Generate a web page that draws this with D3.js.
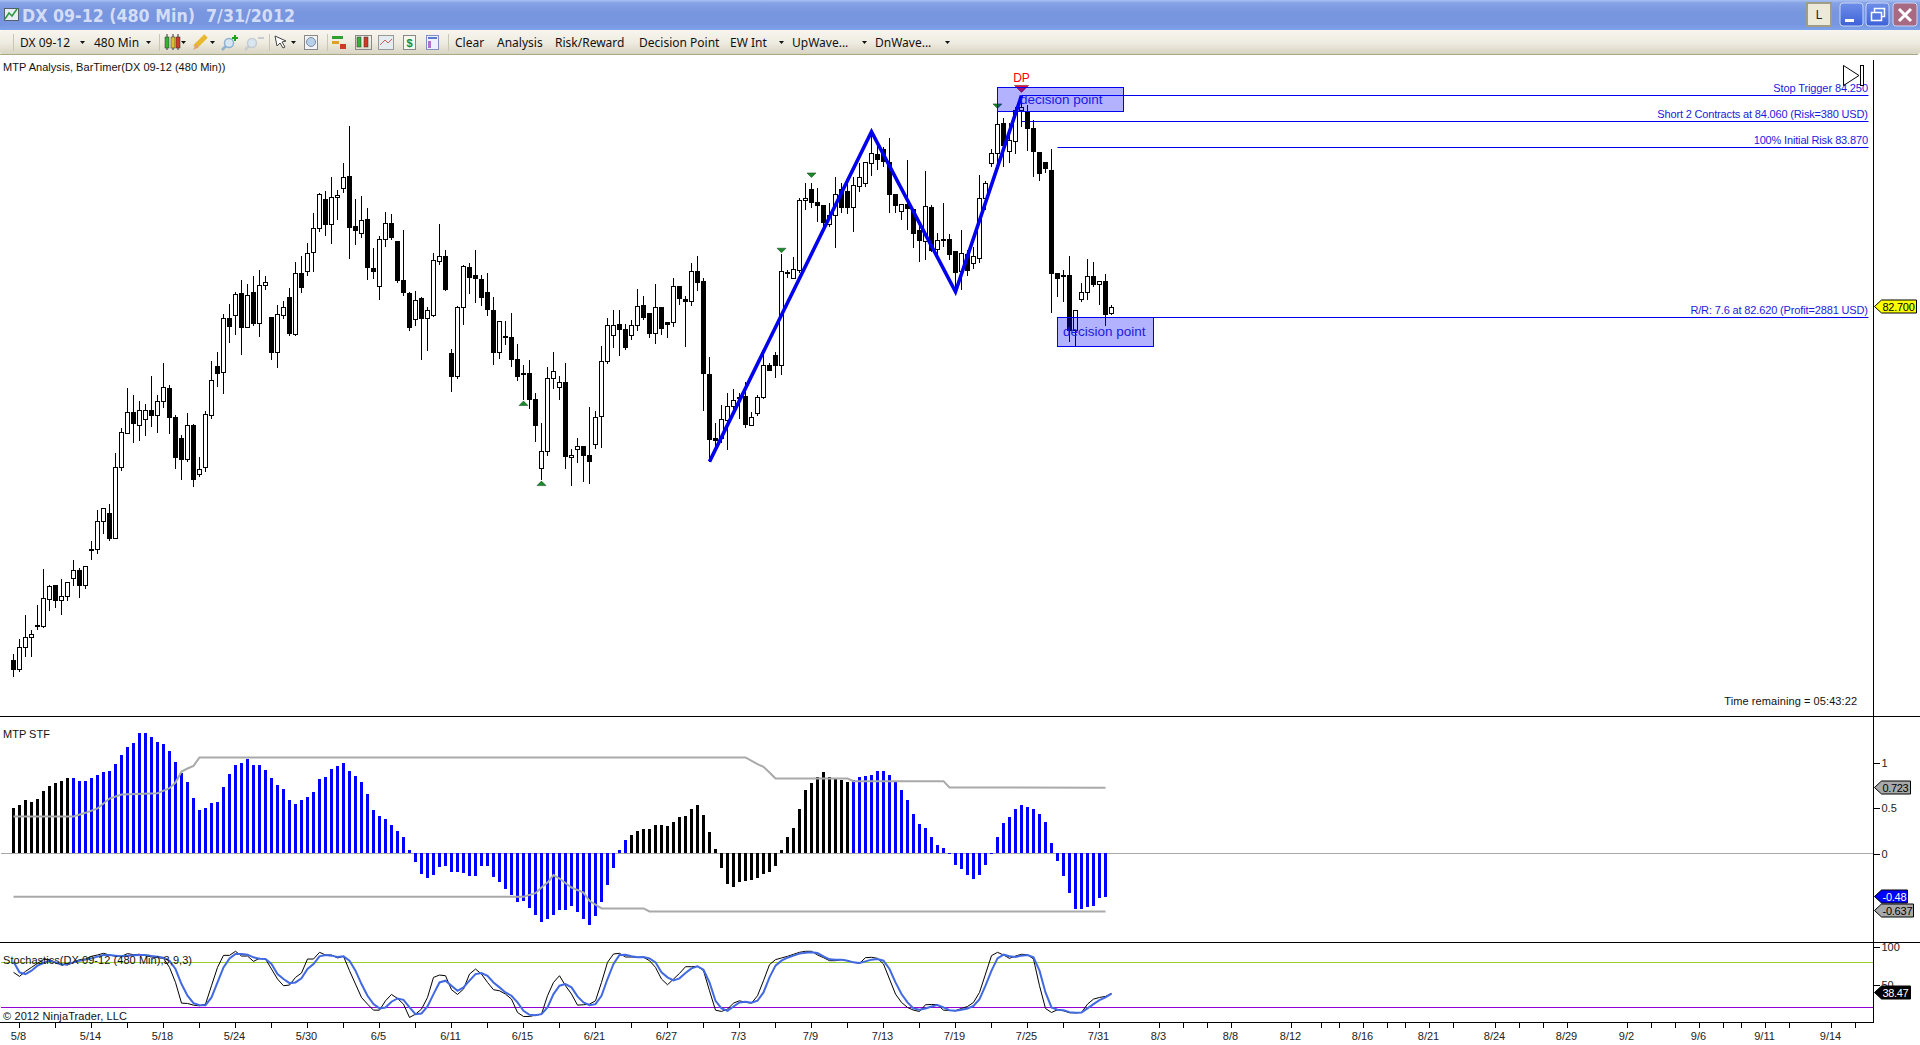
<!DOCTYPE html>
<html>
<head>
<meta charset="utf-8">
<title>DX 09-12 (480 Min)</title>
<script src="https://cdn.jsdelivr.net/npm/d3@7"></script>
<style>
html, body { margin: 0; padding: 0; background: #fff; overflow: hidden; }
text { font-family: "Liberation Sans", Arial, sans-serif; font-size: 11px; }
</style>
</head>
<body>
<svg id="chart" width="1920" height="1045"></svg>
<script>
// ---- data ----
var opens = [
80.118,80.050,80.213,80.286,80.372,80.364,80.564,80.666,80.557,80.586,
80.715,80.776,80.666,80.930,80.930,81.134,81.193,81.010,81.529,81.777,
81.931,81.836,81.880,81.945,81.909,82.011,82.106,81.894,81.741,81.585,
81.836,81.475,81.526,81.909,82.267,82.220,82.617,82.639,82.800,82.549,
82.807,82.578,82.859,82.625,82.367,82.639,82.771,82.498,82.946,82.958,
83.097,83.275,83.487,83.302,83.502,83.567,83.655,83.290,83.239,83.341,
82.983,82.849,83.195,83.312,83.180,82.896,82.801,82.611,82.764,82.618,
82.640,83.035,83.071,82.362,82.192,82.698,82.991,82.932,82.903,82.808,
82.677,82.367,82.487,82.479,82.318,82.216,82.216,82.026,81.522,81.644,
82.180,82.114,82.150,81.600,81.661,81.683,81.617,81.697,81.902,82.304,
82.494,82.574,82.538,82.494,82.567,82.713,82.655,82.508,82.698,82.589,
82.589,82.852,82.757,82.742,82.962,82.888,82.209,81.741,81.741,81.870,
81.973,82.041,82.048,81.834,81.924,82.041,82.275,82.348,82.274,82.956,
82.909,82.968,83.480,83.560,83.465,83.443,83.304,83.370,83.560,83.543,
83.428,83.582,83.604,83.750,83.818,83.852,83.757,83.523,83.399,83.450,
83.414,83.260,83.180,83.428,83.121,83.195,83.195,83.107,82.961,83.085,
83.019,83.056,83.492,83.750,83.823,84.042,83.838,83.911,84.137,84.123,
84.006,83.830,83.757,83.699,82.946,82.929,82.931,82.532,82.756,82.807,
82.924,82.866,82.888,82.654];
var highs = [
80.162,80.272,80.447,80.340,80.523,80.783,80.669,80.669,80.710,80.688,
80.849,80.791,80.805,80.988,81.215,81.229,81.258,81.631,81.814,82.106,
82.057,82.011,81.992,82.196,82.057,82.289,82.130,81.911,81.765,81.926,
81.845,81.602,81.938,82.306,82.371,82.647,82.720,82.807,82.895,82.866,
82.924,82.968,82.924,82.625,82.712,82.742,82.837,83.027,83.071,83.166,
83.385,83.531,83.546,83.648,83.553,83.750,84.021,83.487,83.509,83.421,
83.129,83.217,83.392,83.377,83.180,83.261,82.808,82.815,82.772,82.698,
83.093,83.305,83.115,82.392,82.706,83.005,83.020,83.115,82.932,82.947,
82.772,82.596,82.596,82.655,82.428,82.275,82.311,82.070,81.851,82.260,
82.370,82.194,82.289,81.661,81.741,81.683,81.968,81.938,82.413,82.618,
82.677,82.677,82.574,82.603,82.830,82.779,82.655,82.867,82.698,82.589,
82.910,82.852,82.779,83.020,83.071,82.910,82.333,81.851,81.982,82.070,
82.099,82.070,82.150,81.931,82.055,82.362,82.292,82.370,83.085,82.970,
83.063,83.494,83.604,83.604,83.567,83.443,83.458,83.648,83.604,83.604,
83.648,83.750,83.757,83.981,83.896,83.867,83.933,83.523,83.450,83.774,
83.414,83.311,83.691,83.445,83.238,83.458,83.233,83.107,83.263,83.117,
83.141,83.662,83.618,83.852,84.188,84.079,84.042,84.164,84.225,84.176,
84.067,83.830,83.757,83.852,82.946,82.970,83.073,82.676,82.873,83.051,
83.029,82.888,82.941,82.712];
var lows = [
79.999,80.035,80.145,80.145,80.340,80.355,80.481,80.501,80.450,80.554,
80.664,80.574,80.640,80.852,80.895,81.042,80.990,81.010,81.504,81.777,
81.709,81.724,81.760,81.826,81.782,81.962,81.775,81.519,81.439,81.570,
81.387,81.461,81.497,81.882,82.118,82.067,82.440,82.498,82.352,82.549,
82.564,82.483,82.827,82.315,82.257,82.615,82.491,82.491,82.805,82.929,
82.958,83.251,83.222,83.163,83.338,83.536,83.053,83.156,83.207,82.900,
82.907,82.754,83.141,83.192,82.878,82.784,82.528,82.564,82.316,82.382,
82.630,83.010,82.820,82.082,82.177,82.572,82.798,82.733,82.711,82.638,
82.279,82.323,82.426,82.265,82.163,82.021,81.958,81.717,81.437,81.614,
82.099,82.024,81.519,81.395,81.563,81.424,81.410,81.666,81.673,82.287,
82.404,82.345,82.389,82.462,82.528,82.606,82.477,82.433,82.496,82.477,
82.552,82.718,82.411,82.711,82.820,81.943,81.571,81.680,81.705,81.658,
81.924,81.880,81.819,81.834,81.902,82.031,82.236,82.184,82.203,82.909,
82.909,82.946,83.409,83.421,83.319,83.282,83.287,83.134,83.385,83.380,
83.251,83.543,83.579,83.657,83.701,83.726,83.385,83.385,83.336,83.263,
83.129,83.031,83.043,83.104,83.073,83.136,83.043,82.824,82.824,82.929,
82.975,83.019,83.409,83.721,83.750,83.721,83.755,83.816,84.018,83.842,
83.648,83.623,83.677,82.659,82.776,82.739,82.447,82.405,82.734,82.751,
82.849,82.715,82.564,82.642];
var closes = [
80.050,80.213,80.286,80.308,80.374,80.571,80.659,80.554,80.584,80.688,
80.776,80.664,80.805,80.920,81.134,81.229,81.010,81.529,81.785,81.931,
81.848,81.945,81.945,81.906,82.011,82.113,81.892,81.599,81.585,81.836,
81.439,81.514,81.916,82.165,82.213,82.617,82.557,82.793,82.549,82.785,
82.578,82.859,82.881,82.367,82.647,82.698,82.505,82.946,82.842,83.092,
83.275,83.524,83.302,83.502,83.516,83.648,83.280,83.258,83.334,82.988,
82.958,83.195,83.312,83.207,82.893,82.806,82.552,82.750,82.618,82.677,
83.042,83.071,82.828,82.192,82.698,82.998,82.915,82.908,82.769,82.681,
82.367,82.596,82.477,82.316,82.192,82.206,82.024,81.834,81.646,82.180,
82.231,82.150,81.607,81.617,81.683,81.617,81.571,81.895,82.304,82.567,
82.567,82.535,82.404,82.567,82.706,82.625,82.506,82.698,82.543,82.572,
82.852,82.764,82.740,82.962,82.879,82.216,81.731,81.724,81.880,81.973,
82.016,82.031,81.841,81.895,82.041,82.275,82.236,82.275,82.961,82.951,
82.975,83.480,83.494,83.462,83.441,83.319,83.370,83.523,83.426,83.426,
83.589,83.648,83.757,83.823,83.779,83.762,83.523,83.443,83.450,83.421,
83.238,83.185,83.436,83.117,83.187,83.187,83.085,82.953,83.092,82.968,
83.070,83.494,83.604,83.823,84.035,83.881,83.918,84.140,84.159,84.006,
83.838,83.677,83.713,82.946,82.909,82.927,82.532,82.676,82.807,82.924,
82.863,82.888,82.644,82.700];

var stfValues = [
.498,.531,.586,.564,.597,.685,.740,.773,.795,.828,
.828,.795,.795,.828,.861,.894,.905,.982,1.081,1.168,
1.212,1.322,1.322,1.278,1.223,1.201,1.125,1.004,.883,.784,
.608,.476,.498,.553,.564,.729,.872,.971,.993,1.037,
.971,.971,.916,.828,.751,.707,.586,.542,.586,.619,
.674,.817,.839,.927,.960,.993,.905,.850,.784,.652,
.476,.410,.377,.311,.245,.179,.037,-.095,-.227,-.271,
-.238,-.150,-.139,-.205,-.205,-.216,-.249,-.249,-.139,-.139,
-.260,-.315,-.392,-.458,-.535,-.524,-.601,-.678,-.755,-.722,
-.678,-.623,-.623,-.579,-.645,-.722,-.788,-.689,-.535,-.348,
-.161,.037,.147,.201,.245,.267,.267,.311,.311,.300,
.344,.399,.410,.487,.531,.421,.234,.048,-.161,-.337,
-.370,-.315,-.304,-.293,-.271,-.227,-.205,-.139,.037,.179,
.278,.487,.696,.773,.839,.894,.839,.817,.806,.784,
.806,.839,.850,.861,.905,.905,.861,.784,.696,.586,
.432,.322,.278,.179,.092,.059,-.004,-.128,-.172,-.238,
-.282,-.238,-.128,-.004,.179,.333,.399,.487,.531,.509,
.487,.432,.344,.114,-.084,-.249,-.436,-.612,-.612,-.590,
-.579,-.491,-.48];
// bar index ranges that are painted black instead of blue
var stfBlackRanges = [[0, 9], [103, 139]];

var upperIdx = [0,10,12,14,16,18,24,26,27,28,29,30,31,122,124,125,126,127,139,140,155,156,182];
var upperVal = [.407,.407,.447,.495,.604,.648,.663,.718,.780,.901,.934,.963,1.055,1.055,.982,.952,.890,.824,.824,.795,.795,.725,.723];
var lowerIdx = [0,85,87,88,89,90,91,93,95,96,98,105,106,182];
var lowerVal = [-.476,-.476,-.436,-.374,-.319,-.238,-.275,-.374,-.429,-.520,-.604,-.604,-.637,-.637];

var stochK = [
66.7,61.3,68,73.3,78.7,83.6,83.6,80,77.8,76.4,
80,83.6,84.4,88,89.8,92,89.8,88,88,91.6,
90.2,90.7,88.9,87.1,86.2,85.3,73.3,53.3,25.8,25.3,
23.1,22.2,24.4,48.9,73.3,89.3,89.3,94.7,88.4,88.4,
81.3,85.3,84.4,71.1,57.8,48.9,49.8,60,65.8,84.4,
84.4,93.3,89.8,89.8,85.8,88,68.9,51.1,33.3,24.4,
16.4,16.4,28.9,37.3,32,24.4,6.7,11.1,17.8,33.3,
60,63.1,62.2,43.6,37.3,44.4,64.4,71.1,64.4,53.3,
43.6,42.2,37.8,31.1,13.3,8,8,9.8,11.1,35.6,
53.3,62.2,48.9,37.8,23.1,23.6,24.4,28.9,53.3,80,
91.1,92,87.1,87.1,86.7,86.7,82.2,73.3,57.8,50.2,
57.8,65.3,74.2,74.2,74.7,68.9,42.2,16.4,14.7,17.8,
25.8,28.9,26.7,25.8,35.6,55.6,76.9,83.6,85.8,88,
90.7,93.3,94.7,94.7,89.8,86.2,82.2,82.2,83.6,82.2,
80,78.7,86.2,86.7,85.3,77.8,57.8,37.8,26.7,20,
16.4,14.7,23.6,24,23.6,16.4,16,15.6,18.7,21.3,
26.7,40,64.4,88.9,93.3,89.8,85.3,88.4,90.7,90.2,
84.4,48.9,18.7,13.3,16.9,15.6,12.9,12.9,13.3,24.4,
31.1,33.3,34.7,38.7];
var stochD = [
80.9,66.7,64.4,68.9,75.6,79.1,82.2,80,76.9,77.8,
80,82.2,83.6,85.3,87.6,89.8,89.8,88.9,88,88.9,
89.3,89.8,89.8,88.4,87.6,86.2,82.2,71.1,51.1,35.6,
25.8,23.1,23.1,33.3,53.3,73.3,85.3,91.1,91.1,90.2,
86.7,84.9,84.4,77.8,64.4,57.8,52.4,53.3,58.7,71.1,
77.8,88,89.8,88.9,87.1,88,82.2,68.9,51.1,35.6,
24.4,18.7,20,27.6,32,30.2,20,11.1,12,21.3,
37.8,53.3,55.6,48.9,42.2,46.7,55.6,64.4,65.8,62.2,
53.3,46.7,40,35.6,26.7,15.6,10.2,9.8,11.1,20,
37.8,48.9,51.1,46.7,34.7,26.7,23.1,24.4,35.6,57.8,
77.8,89.8,90.2,88,86.7,87.1,85.3,80,66.7,60,
56,58.7,65.8,72,74.7,70.2,53.3,28.9,18.7,15.6,
21.3,26.7,27.6,26.2,28.9,40,60,75.6,82.2,86.2,
88.9,91.6,92.9,93.3,92.4,88,84,83.6,83.6,82.2,
80,79.1,81.3,83.6,84.4,82.2,71.1,53.3,37.8,26.7,
18.7,16.9,18.7,21.3,23.1,20,16.4,15.6,16.9,18.7,
22.2,31.1,48.9,68.9,85.3,90.2,88,87.1,88.9,89.8,
86.7,68.9,40,20,16.9,16.4,13.8,12.9,13.3,18.7,
24.4,29.8,33.3,38.47];

// x axis: bar index of each tick, and the date text of the labelled ones
var tickIdx = [1,7,13,19,25,31,37,43,49,55,61,67,73,79,85,91,97,103,109,115,121,127,133,139,145,151,157,163,169,175,181,
  191,195,199,203,213,218,221,225,229,232,236,240,247,251,255,259,269,273,277,281,285,288,292,296,303,307];
var labelIdx = [1,13,25,37,49,61,73,85,97,109,121,133,145,157,169,181,191,203,213,225,236,247,259,269,281,292,303];
var labelText = ["5/8","5/14","5/18","5/24","5/30","6/5","6/11","6/15","6/21","6/27","7/3","7/9","7/13","7/19","7/25","7/31",
  "8/3","8/8","8/12","8/16","8/21","8/24","8/29","9/2","9/6","9/11","9/14"];

// zigzag drawing tool
var waveIdx = [116, 143, 157, 168];
var wavePrice = [81.570, 83.982, 82.812, 84.245];

// MTP swing markers
var downMarkIdx = [128, 133, 164];
var downMarkPrice = [83.130, 83.680, 84.185];
var upMarkIdx = [85, 88];
var upMarkPrice = [81.980, 81.395];

// risk/reward lines (line level nudged to land on the same pixel rows as the picture)
var rrIdx = [168, 168, 174, 174];
var rrPrice = [84.250, 84.055, 83.865, 82.625];
var rrText = ["Stop Trigger 84.250", "Short 2 Contracts at 84.060 (Risk=380 USD)", "100% Initial Risk 83.870", "R/R: 7.6 at 82.620 (Profit=2881 USD)"];
var rrTextWidth = [94.7, 210.7, 114.3, 177.6];

// decision point boxes: first bar, last bar, top price, bottom price
var boxFrom = [164, 174];
var boxTo = [185, 190];
var boxTop = [84.306, 82.625];
var boxBottom = [84.131, 82.413];

var toolText = ["DX 09-12", "480 Min", "Clear", "Analysis", "Risk/Reward", "Decision Point", "EW Int", "UpWave...", "DnWave..."];
var toolX = [20, 94, 455, 497, 555, 639, 730, 792, 875];

// ---- scales ----
var x = d3.scaleLinear().domain([0, 183]).range([13.5, 13.5 + 6 * 183]);
var yPrice = d3.scaleLinear().domain([84.25, 82.62]).range([95, 318]);
var ySTF = d3.scaleLinear().domain([0, 1]).range([853.5, 762.5]);
var yStoch = d3.scaleLinear().domain([0, 100]).range([1022.5, 947.3]);
var crisp = function (v) { return Math.floor(v) + 0.5; };

var svg = d3.select("#chart");
var defs = svg.append("defs");

function gradient(id, stops) {
    var g = defs.append("linearGradient").attr("id", id)
        .attr("x1", 0).attr("x2", 0).attr("y1", 0).attr("y2", 1);
    stops.forEach(function (s) {
        g.append("stop").attr("offset", s[0]).attr("stop-color", s[1]);
    });
}
gradient("titleGrad", [[0, "#a9c0f2"], [0.1, "#86a3e6"], [0.4, "#7895df"], [0.8, "#7895df"], [1, "#7da3ea"]]);
gradient("toolGrad", [[0, "#f7f5ee"], [0.5, "#efece2"], [1, "#d9d5c3"]]);
gradient("btnGrad", [[0, "#6f8fe8"], [1, "#3d62d8"]]);

// ---- window frame ----
var frame = svg.append("g").attr("id", "frame");
frame.append("rect").attr("width", 1920).attr("height", 30).attr("fill", "url(#titleGrad)");
frame.append("rect").attr("y", 30).attr("width", 1920).attr("height", 24).attr("rx", 2).attr("fill", "url(#toolGrad)");
frame.append("line").attr("x1", 0).attr("x2", 1918).attr("y1", 54.5).attr("y2", 54.5).attr("stroke", "#a9a885");

// little chart icon in the title bar
frame.append("rect").attr("x", 4.5).attr("y", 8.5).attr("width", 14).attr("height", 12).attr("fill", "#e8ecf4").attr("stroke", "#55606f");
frame.append("path").attr("d", "M5,19 L9,13 L12,16 L17,9").attr("fill", "none").attr("stroke", "#2c9a3c").attr("stroke-width", 1.5);
frame.append("text").attr("x", 22).attr("y", 22)
    .style("font-family", "'DejaVu Sans', sans-serif").style("font-size", "18.5px").style("font-weight", "bold")
    .attr("textLength", 273).attr("lengthAdjust", "spacingAndGlyphs")
    .attr("fill", "#d3ddf6").attr("xml:space", "preserve").text("DX 09-12 (480 Min)  7/31/2012");

// window buttons
frame.append("rect").attr("x", 1807).attr("y", 3).attr("width", 24).attr("height", 23).attr("fill", "#ece9d8").attr("stroke", "#9f9c87").attr("stroke-width", 2);
frame.append("text").attr("x", 1819).attr("y", 19).attr("text-anchor", "middle").style("font-size", "12px").attr("fill", "#222").text("L");
frame.selectAll(".winbtn").data([1840, 1866]).enter().append("rect")
    .attr("class", "winbtn").attr("x", function (d) { return d; }).attr("y", 3)
    .attr("width", 23).attr("height", 23).attr("rx", 3).attr("fill", "url(#btnGrad)").attr("stroke", "#c8d6f6");
frame.append("rect").attr("x", 1893).attr("y", 3).attr("width", 24).attr("height", 23).attr("rx", 3).attr("fill", "#a86a82").attr("stroke", "#c8d6f6");
frame.append("rect").attr("x", 1845).attr("y", 19).attr("width", 9).attr("height", 3).attr("fill", "#fff");
frame.append("rect").attr("x", 1874.5).attr("y", 8.5).attr("width", 10).attr("height", 8).attr("fill", "none").attr("stroke", "#fff").attr("stroke-width", 1.5);
frame.append("rect").attr("x", 1871.5).attr("y", 12.5).attr("width", 10).attr("height", 8).attr("fill", "#5577e0").attr("stroke", "#fff").attr("stroke-width", 1.5);
frame.append("path").attr("d", "M1899,9 L1911,21 M1911,9 L1899,21").attr("stroke", "#fff").attr("stroke-width", 3);

// toolbar texts and the small dropdown arrows
frame.selectAll(".tool").data(toolText).enter().append("text")
    .attr("class", "tool").attr("x", function (d, i) { return toolX[i]; }).attr("y", 47)
    .style("font-family", "'Noto Sans', sans-serif").style("font-size", "12px").attr("fill", "#111").text(function (d) { return d; });
frame.selectAll(".arrow").data([80, 146, 181, 210, 291, 779, 862, 945]).enter().append("path")
    .attr("class", "arrow").attr("d", function (d) { return "M" + d + ",41 h5 l-2.5,3 z"; }).attr("fill", "#111");
frame.selectAll(".sep").data([13, 159, 269, 327, 448]).enter().append("line")
    .attr("class", "sep").attr("x1", function (d) { return d + 0.5; }).attr("x2", function (d) { return d + 0.5; })
    .attr("y1", 34).attr("y2", 51).attr("stroke", "#c9c6b4");
// toolbar icons, kept rough on purpose
var icons = frame.append("g").attr("id", "icons");
[[165, "#35b035"], [171, "#d8c030"], [176, "#d03a2a"]].forEach(function (b) {
    icons.append("line").attr("x1", b[0] + 2).attr("x2", b[0] + 2).attr("y1", 34).attr("y2", 50).attr("stroke", "#333");
    icons.append("rect").attr("x", b[0]).attr("y", 37).attr("width", 4).attr("height", 11).attr("fill", b[1]).attr("stroke", "#333").attr("stroke-width", 0.5);
});
icons.append("path").attr("d", "M195,47 L206,36").attr("stroke", "#e8b830").attr("stroke-width", 5);
icons.append("path").attr("d", "M193,50 L196,44 L199,47 Z").attr("fill", "#e0a070");
[[229, "#8fb2d0"], [252, "#c6ccd2"]].forEach(function (b) {
    icons.append("circle").attr("cx", b[0]).attr("cy", 43).attr("r", 4.5).attr("fill", "#d8e6f2").attr("stroke", b[1]).attr("stroke-width", 1.5);
    icons.append("line").attr("x1", b[0] - 3).attr("y1", 46).attr("x2", b[0] - 7).attr("y2", 50).attr("stroke", b[1]).attr("stroke-width", 2.5);
});
icons.append("path").attr("d", "M232,38 h6 M235,35 v6").attr("stroke", "#20a020").attr("stroke-width", 2);
icons.append("path").attr("d", "M258,38 h6").attr("stroke", "#c6ccd2").attr("stroke-width", 2);
icons.append("path").attr("d", "M275,36 l11,5 -4,1 3,5 -2,1 -3,-5 -3,3 z").attr("fill", "#fff").attr("stroke", "#444");
icons.append("rect").attr("x", 304.5).attr("y", 35.5).attr("width", 13).attr("height", 14).attr("fill", "#f4f4f4").attr("stroke", "#888");
icons.append("circle").attr("cx", 311).attr("cy", 42).attr("r", 4.5).attr("fill", "#b8d0ea").attr("stroke", "#7a8fa6");
icons.append("rect").attr("x", 332).attr("y", 36).attr("width", 11).attr("height", 3).attr("fill", "#2f9f2f");
icons.append("rect").attr("x", 332).attr("y", 41).attr("width", 7).attr("height", 3).attr("fill", "#e0a020");
icons.append("rect").attr("x", 340).attr("y", 44).attr("width", 6).attr("height", 5).attr("fill", "#d03a2a");
[[357, "#35b035"], [364, "#d03a2a"]].forEach(function (b) {
    icons.append("rect").attr("x", b[0]).attr("y", 37).attr("width", 4).attr("height", 10).attr("fill", b[1]).attr("stroke", "#333").attr("stroke-width", 0.5);
});
icons.append("rect").attr("x", 355.5).attr("y", 35.5).attr("width", 16).attr("height", 14).attr("fill", "none").attr("stroke", "#888");
icons.append("rect").attr("x", 378.5).attr("y", 35.5).attr("width", 15).attr("height", 14).attr("fill", "#e4ecf0").attr("stroke", "#999");
icons.append("path").attr("d", "M380,45 L385,40 L388,43 L392,39").attr("fill", "none").attr("stroke", "#d06060");
icons.append("rect").attr("x", 403.5).attr("y", 35.5).attr("width", 12).attr("height", 14).attr("fill", "#f4f8ee").attr("stroke", "#888");
icons.append("text").attr("x", 409.5).attr("y", 47).attr("text-anchor", "middle").style("font-size", "11px").style("font-weight", "bold").attr("fill", "#1a8a3a").text("$");
icons.append("rect").attr("x", 426.5).attr("y", 35.5).attr("width", 12).attr("height", 14).attr("fill", "#eef1fb").attr("stroke", "#7f8fc0");
icons.append("rect").attr("x", 428).attr("y", 37).attr("width", 9).attr("height", 2).attr("fill", "#5a7ad0");
icons.append("rect").attr("x", 428).attr("y", 41).attr("width", 3).attr("height", 7).attr("fill", "#b070d0");

// ---- candles ----
var bars = d3.range(closes.length);
var price = svg.append("g").attr("id", "price");

// drawing objects that sit under the candles
price.selectAll(".rr").data(rrPrice).enter().append("line")
    .attr("class", "rr")
    .attr("x1", function (d, i) { return x(rrIdx[i]); }).attr("x2", 1868.5)
    .attr("y1", function (d) { return crisp(yPrice(d)); }).attr("y2", function (d) { return crisp(yPrice(d)); })
    .attr("stroke", "#0000ee");
price.append("line").attr("x1", x(168)).attr("x2", x(168))
    .attr("y1", crisp(yPrice(rrPrice[0]))).attr("y2", crisp(yPrice(rrPrice[1]))).attr("stroke", "#0000ee");

price.selectAll(".wick").data(bars).enter().append("line")
    .attr("class", "wick").attr("shape-rendering", "crispEdges")
    .attr("x1", function (i) { return x(i); }).attr("x2", function (i) { return x(i); })
    .attr("y1", function (i) { return Math.round(yPrice(highs[i])); })
    .attr("y2", function (i) { return Math.round(yPrice(lows[i])); })
    .attr("stroke", "#000");
price.selectAll(".body").data(bars).enter().append("rect")
    .attr("class", "body").attr("shape-rendering", "crispEdges")
    .attr("x", function (i) { return x(i) - 2; })
    .attr("width", 4)
    .attr("y", function (i) { return crisp(yPrice(Math.max(opens[i], closes[i]))); })
    .attr("height", function (i) { return Math.max(1, Math.round(Math.abs(yPrice(opens[i]) - yPrice(closes[i])))); })
    .attr("fill", function (i) { return closes[i] >= opens[i] ? "#fff" : "#000"; })
    .attr("stroke", "#000");

// zigzag
var waveLine = d3.line().x(function (d, i) { return x(waveIdx[i]); }).y(function (d) { return yPrice(d); });
price.append("path").attr("d", waveLine(wavePrice)).attr("fill", "none").attr("stroke", "#0000ee").attr("stroke-width", 3.6).attr("stroke-linejoin", "miter");

// markers
price.selectAll(".dn").data(downMarkPrice).enter().append("path")
    .attr("class", "dn")
    .attr("d", function (d, i) { var px = x(downMarkIdx[i]), py = yPrice(d); return "M" + (px - 4.5) + "," + py + " h9 l-4.5,4.5 z"; })
    .attr("fill", "#188a28").attr("stroke", "#0b3d14").attr("stroke-width", 0.5);
price.selectAll(".up").data(upMarkPrice).enter().append("path")
    .attr("class", "up")
    .attr("d", function (d, i) { var px = x(upMarkIdx[i]), py = yPrice(d); return "M" + (px - 4.5) + "," + py + " h9 l-4.5,-4.5 z"; })
    .attr("fill", "#188a28").attr("stroke", "#0b3d14").attr("stroke-width", 0.5);
price.append("path")
    .attr("d", "M" + (x(168) - 7) + "," + yPrice(84.32) + " h14 l-7,7 z")
    .attr("fill", "#e0143c").attr("stroke", "#7a1020").attr("stroke-width", 0.6);
price.append("text").attr("x", x(168)).attr("y", 82).attr("text-anchor", "middle")
    .style("font-size", "12px").attr("fill", "#ff0000").text("DP");

// decision point boxes
price.selectAll(".dpbox").data(boxTop).enter().append("rect")
    .attr("class", "dpbox").attr("shape-rendering", "crispEdges")
    .attr("x", function (d, i) { return x(boxFrom[i]); })
    .attr("width", function (d, i) { return x(boxTo[i]) - x(boxFrom[i]); })
    .attr("y", function (d) { return crisp(yPrice(d)); })
    .attr("height", function (d, i) { return Math.round(yPrice(boxBottom[i]) - yPrice(d)); })
    .attr("fill", "#0000ff").attr("fill-opacity", 0.3).attr("stroke", "#0000ee");
price.selectAll(".dptext").data(boxTop).enter().append("text")
    .attr("class", "dptext")
    .attr("x", function (d, i) { return i === 0 ? 1020 : 1063; })
    .attr("y", function (d, i) { return i === 0 ? 104 : 335.5; })
    .style("font-size", "13.5px").attr("fill", "#1a1ae0").text("decision point");

// risk text, right aligned at the line end
price.selectAll(".rrtext").data(rrText).enter().append("text")
    .attr("class", "rrtext").attr("x", 1868).attr("text-anchor", "end")
    .attr("y", function (d, i) { return crisp(yPrice(rrPrice[i])) - 4; })
    .attr("textLength", function (d, i) { return rrTextWidth[i]; }).attr("lengthAdjust", "spacing")
    .attr("fill", "#1a1ae0").text(function (d) { return d; });

price.append("text").attr("x", 3).attr("y", 71).attr("textLength", 222.4).attr("fill", "#111").text("MTP Analysis, BarTimer(DX 09-12 (480 Min))");
price.append("text").attr("x", 1857).attr("y", 705).attr("text-anchor", "end").attr("textLength", 132.7).attr("fill", "#111").text("Time remaining = 05:43:22");

// bar timer icon
price.append("path").attr("d", "M1843.5,65.5 L1859,75.5 L1843.5,85.5 Z").attr("fill", "none").attr("stroke", "#000");
price.append("rect").attr("x", 1860.5).attr("y", 65.5).attr("width", 3).attr("height", 20).attr("fill", "none").attr("stroke", "#000");

// ---- MTP STF panel ----
var stf = svg.append("g").attr("id", "stf");
function isBlack(i) {
    return stfBlackRanges.some(function (r) { return i >= r[0] && i <= r[1]; });
}
stf.append("line").attr("x1", 1).attr("x2", 1873).attr("y1", 853.5).attr("y2", 853.5).attr("stroke", "#a9a9a9");
stf.selectAll(".hist").data(stfValues).enter().append("rect")
    .attr("class", "hist").attr("shape-rendering", "crispEdges")
    .attr("x", function (d, i) { return x(i) - 1.5; }).attr("width", 3)
    .attr("y", function (d) { return d >= 0 ? Math.round(ySTF(d)) : 853; })
    .attr("height", function (d) { return Math.max(1, Math.round(Math.abs(ySTF(d) - ySTF(0)))); })
    .attr("fill", function (d, i) { return isBlack(i) ? "#000" : "#0000ff"; });

var upperLine = d3.line().x(function (d, i) { return x(upperIdx[i]); }).y(function (d) { return ySTF(d); });
var lowerLine = d3.line().x(function (d, i) { return x(lowerIdx[i]); }).y(function (d) { return ySTF(d); });
stf.append("path").attr("d", upperLine(upperVal)).attr("fill", "none").attr("stroke", "#a9a9a9").attr("stroke-width", 2);
stf.append("path").attr("d", lowerLine(lowerVal)).attr("fill", "none").attr("stroke", "#a9a9a9").attr("stroke-width", 2);
stf.append("text").attr("x", 3).attr("y", 738).attr("fill", "#111").text("MTP STF");

// ---- Stochastics panel ----
var stoch = svg.append("g").attr("id", "stoch");
stoch.append("line").attr("x1", 1).attr("x2", 1873).attr("y1", crisp(yStoch(80))).attr("y2", crisp(yStoch(80))).attr("stroke", "#9acd32");
stoch.append("line").attr("x1", 1).attr("x2", 1873).attr("y1", crisp(yStoch(20))).attr("y2", crisp(yStoch(20))).attr("stroke", "#9400d3");
var stochLine = d3.line().x(function (d, i) { return x(i); }).y(function (d) { return yStoch(d); });
stoch.append("path").attr("d", stochLine(stochK)).attr("fill", "none").attr("stroke", "#000");
stoch.append("path").attr("d", stochLine(stochD)).attr("fill", "none").attr("stroke", "#4169e1").attr("stroke-width", 2);
stoch.append("text").attr("x", 3).attr("y", 964).attr("textLength", 189).attr("fill", "#111").text("Stochastics(DX 09-12 (480 Min),3,9,3)");
stoch.append("text").attr("x", 3).attr("y", 1020).attr("textLength", 124).attr("fill", "#111").text("\u00a9 2012 NinjaTrader, LLC");

// ---- axes and panel rules ----
var axes = svg.append("g").attr("id", "axes").attr("shape-rendering", "crispEdges");
axes.append("line").attr("x1", 1873.5).attr("x2", 1873.5).attr("y1", 60).attr("y2", 1023).attr("stroke", "#000");
[716.5, 942.5].forEach(function (y) {
    axes.append("line").attr("x1", 0).attr("x2", 1920).attr("y1", y).attr("y2", y).attr("stroke", "#000");
});

var xAxis = d3.axisBottom(x).tickValues(tickIdx).tickSizeOuter(0).tickSizeInner(6).tickPadding(4).offset(0)
    .tickFormat(function (d) { var k = labelIdx.indexOf(d); return k < 0 ? "" : labelText[k]; });
var xg = svg.append("g").attr("transform", "translate(0,1022)").call(xAxis);
xg.select(".domain").attr("d", "M0,0.5H1873");
xg.selectAll("text").attr("x", -1).style("font-family", "'Liberation Sans', Arial, sans-serif").style("font-size", "11px").attr("fill", "#222");
xg.selectAll("line").attr("shape-rendering", "crispEdges");

var stfAxis = d3.axisRight(ySTF).tickValues([1, 0.5, 0]).tickSizeOuter(0).tickSize(6).tickPadding(2).tickFormat(function (d) { return d; });
var stfG = svg.append("g").attr("transform", "translate(1873.5,0)").call(stfAxis);
stfG.select(".domain").remove();
var stochAxis = d3.axisRight(yStoch).tickValues([100, 50]).tickSizeOuter(0).tickSize(6).tickPadding(2);
var stochG = svg.append("g").attr("transform", "translate(1873.5,0)").call(stochAxis);
stochG.select(".domain").remove();
[stfG, stochG].forEach(function (g) {
    g.selectAll("text").style("font-family", "'Liberation Sans', Arial, sans-serif").style("font-size", "11px").attr("fill", "#222");
    g.selectAll("line").attr("shape-rendering", "crispEdges");
});

// ---- value tags at the right ----
var tagText = ["82.700", "0.723", "-0.48", "-0.637", "38.47"];
var tagY = [yPrice(82.700), ySTF(0.723), ySTF(-0.48), ySTF(-0.637), yStoch(38.47)];
var tagRight = [1916.5, 1910.5, 1907.5, 1913.5, 1910.5];
var tagWidth = [32.3, 26, 24, 30, 26];
var tagFill = ["#ffff00", "#a9a9a9", "#0000ff", "#a9a9a9", "#000"];
var tagInk = ["#000", "#000", "#fff", "#000", "#fff"];
var tagMid = function (i) { return Math.floor(tagY[i] - 0.6) + 0.5; };
svg.selectAll(".tag").data(tagText).enter().append("path")
    .attr("class", "tag")
    .attr("d", function (d, i) {
        var y = tagMid(i);
        return "M1874.5," + y + " L1881.5," + (y - 6.5) + " H" + tagRight[i] + " V" + (y + 6.5) + " H1881.5 Z";
    })
    .attr("fill", function (d, i) { return tagFill[i]; }).attr("stroke", "#000");
svg.selectAll(".tagtext").data(tagText).enter().append("text")
    .attr("class", "tagtext").attr("x", 1882.5)
    .attr("y", function (d, i) { return tagMid(i) + 4; })
    .attr("textLength", function (d, i) { return tagWidth[i]; })
    .attr("fill", function (d, i) { return tagInk[i]; }).text(function (d) { return d; });
</script>
</body>
</html>
